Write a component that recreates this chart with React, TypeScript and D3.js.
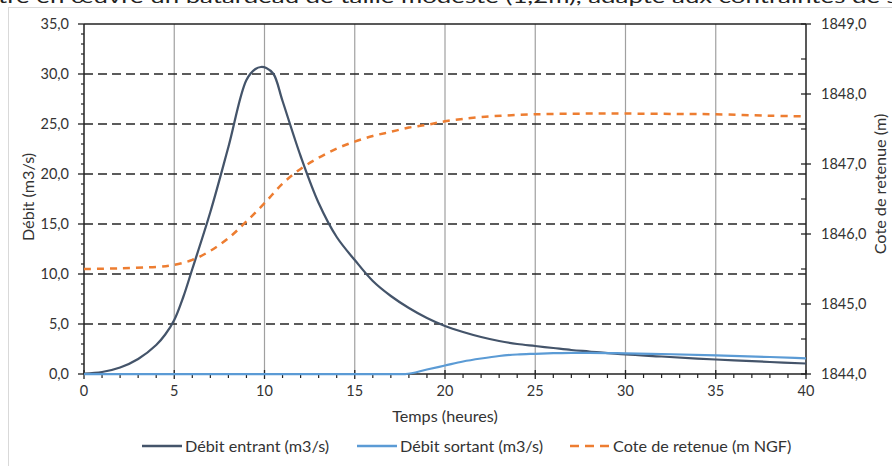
import React from "react";
import * as d3 from "d3";

// ---- Data ----
const inflowT = [0, 1, 2, 3, 4, 4.5, 5, 5.5, 6, 7, 8, 9, 9.5, 9.8, 10.1, 10.5, 11, 12, 13, 14, 15, 16, 17, 18, 19, 20, 21, 22, 23, 24, 25, 26, 27, 28, 30, 32, 35, 38, 40];
const inflowQ = [0.05, 0.2, 0.65, 1.5, 2.9, 3.95, 5.4, 7.7, 10.5, 16.2, 22.7, 29.4, 30.5, 30.7, 30.6, 30.0, 27.3, 21.8, 17.1, 13.7, 11.4, 9.3, 7.8, 6.6, 5.6, 4.8, 4.2, 3.7, 3.3, 3.0, 2.8, 2.6, 2.4, 2.25, 1.95, 1.75, 1.45, 1.2, 1.05];

const outflowT = [0, 5, 10, 15, 17.8, 19, 20, 21, 22, 23, 24, 25, 26, 27, 28, 30, 32, 35, 38, 40];
const outflowQ = [0, 0, 0, 0, 0, 0.45, 0.85, 1.25, 1.55, 1.8, 1.95, 2.02, 2.08, 2.12, 2.12, 2.07, 2.0, 1.87, 1.7, 1.57];

const coteT = [0, 2, 4, 5, 6, 7, 8, 9, 10, 11, 12, 13, 14, 15, 16, 17, 18, 19, 20, 22, 25, 28, 30, 33, 35, 38, 40];
const coteZ = [1845.5, 1845.51, 1845.53, 1845.56, 1845.63, 1845.76, 1845.94, 1846.18, 1846.44, 1846.72, 1846.93, 1847.09, 1847.22, 1847.32, 1847.4, 1847.46, 1847.52, 1847.56, 1847.61, 1847.67, 1847.71, 1847.72, 1847.72, 1847.715, 1847.71, 1847.69, 1847.68];

const xTicks = [0, 5, 10, 15, 20, 25, 30, 35, 40];
const yTicks = [0, 5, 10, 15, 20, 25, 30, 35];
const y2Ticks = [1844, 1845, 1846, 1847, 1848, 1849];

const seriesNames = ["Débit entrant (m3/s)", "Débit sortant (m3/s)", "Cote de retenue (m NGF)"];
const xTitle = "Temps (heures)";
const yTitle = "Débit (m3/s)";
const y2Title = "Cote de retenue (m)";
const topText = "tre en œuvre un batardeau de taille modeste (1,2m), adapté aux contraintes de si";

const FONT = "Lato, 'Open Sans', sans-serif";
const C_IN = "#44546A";
const C_OUT = "#5B9BD5";
const C_COTE = "#ED7D31";
const TXT = "#333333";
const NUM_FS = 14.5;
const LBL_FS = 16.2;

export default function App() {
  const L = 84, R = 806, T = 24, B = 374;
  const x = d3.scaleLinear().domain([0, 40]).range([L, R]);
  const y = d3.scaleLinear().domain([0, 35]).range([B, T]);
  const y2 = d3.scaleLinear().domain([1844, 1849]).range([B, T]);

  const fmt1 = (v: number) => d3.format(".1f")(v).replace(".", ",");

  const lineIn = d3.line<[number, number]>().x(d => x(d[0])).y(d => y(d[1])).curve(d3.curveCatmullRom.alpha(0.5));
  const lineOut = d3.line<[number, number]>().x(d => x(d[0])).y(d => y(d[1])).curve(d3.curveMonotoneX);
  const lineZ = d3.line<[number, number]>().x(d => x(d[0])).y(d => y2(d[1])).curve(d3.curveCatmullRom.alpha(0.5));

  const inPts = inflowT.map((t, i) => [t, inflowQ[i]] as [number, number]);
  const outPts = outflowT.map((t, i) => [t, outflowQ[i]] as [number, number]);
  const cotePts = coteT.map((t, i) => [t, coteZ[i]] as [number, number]);

  const yMinor = d3.range(0, 36, 1).filter(v => v % 5 !== 0);
  const xMinor = d3.range(0, 41, 1).filter(v => v % 5 !== 0);
  const y2Minor = d3.range(1844.5, 1849, 1);

  const legendY = 446;
  const legend = [
    { x0: 142, color: C_IN, dash: undefined as string | undefined, name: seriesNames[0] },
    { x0: 357, color: C_OUT, dash: undefined, name: seriesNames[1] },
    { x0: 570, color: C_COTE, dash: "9,6", name: seriesNames[2] },
  ];

  return (
    <svg width={892} height={466} style={{ position: "absolute", left: 0, top: 0, background: "#fff" }} fontFamily={FONT}>
      <rect x={0} y={0} width={892} height={466} fill="#fff" />
      <text x={-2} y={2.5} fontSize={17} fill="#222" textLength={906} lengthAdjust="spacingAndGlyphs">{topText}</text>
      <rect x={8.5} y={7.5} width={900} height={500} fill="none" stroke="#D9D9D9" />

      {/* vertical gridlines */}
      {xTicks.filter(v => v > 0 && v < 40).map(v => (
        <line key={"vg" + v} x1={x(v)} x2={x(v)} y1={T} y2={B} stroke="#A0A0A0" strokeWidth={1.2} />
      ))}
      {/* horizontal dashed gridlines */}
      {yTicks.filter(v => v > 0 && v < 35).map(v => (
        <line key={"hg" + v} x1={L} x2={R} y1={y(v)} y2={y(v)} stroke="#262626" strokeWidth={1.4} strokeDasharray="9,5" />
      ))}

      {/* axes */}
      <line x1={L} x2={R} y1={T} y2={T} stroke="#222" strokeWidth={1.5} />
      <line x1={L} x2={L} y1={T} y2={B} stroke="#222" strokeWidth={1.5} />
      <line x1={R} x2={R} y1={T} y2={B} stroke="#222" strokeWidth={1.5} />
      <line x1={L} x2={R} y1={B} y2={B} stroke="#222" strokeWidth={1.5} />

      {/* left ticks */}
      {yTicks.map(v => (
        <line key={"yt" + v} x1={L - 6} x2={L} y1={y(v)} y2={y(v)} stroke="#222" strokeWidth={1.3} />
      ))}
      {yMinor.map(v => (
        <line key={"ym" + v} x1={L - 3} x2={L} y1={y(v)} y2={y(v)} stroke="#222" strokeWidth={1.2} />
      ))}
      {yTicks.map(v => (
        <text key={"yl" + v} x={L - 15} y={y(v)} dy="0.35em" textAnchor="end" fontSize={NUM_FS} fill={TXT}>{fmt1(v)}</text>
      ))}

      {/* right ticks */}
      {y2Ticks.map(v => (
        <line key={"y2t" + v} x1={R - 5} x2={R + 5} y1={y2(v)} y2={y2(v)} stroke="#222" strokeWidth={1.3} />
      ))}
      {y2Minor.map(v => (
        <line key={"y2m" + v} x1={R - 5} x2={R} y1={y2(v)} y2={y2(v)} stroke="#222" strokeWidth={1.2} />
      ))}
      {y2Ticks.map(v => (
        <text key={"y2l" + v} x={R + 15} y={y2(v)} dy="0.35em" textAnchor="start" fontSize={NUM_FS} fill={TXT}>{fmt1(v)}</text>
      ))}

      {/* bottom ticks */}
      {xTicks.map(v => (
        <line key={"xt" + v} x1={x(v)} x2={x(v)} y1={B - 4} y2={B + 5} stroke="#222" strokeWidth={1.3} />
      ))}
      {xMinor.map(v => (
        <line key={"xm" + v} x1={x(v)} x2={x(v)} y1={B} y2={B + 4} stroke="#222" strokeWidth={1.2} />
      ))}
      {xTicks.map(v => (
        <text key={"xl" + v} x={x(v)} y={391} dy="0.35em" textAnchor="middle" fontSize={NUM_FS} fill={TXT}>{String(v)}</text>
      ))}

      {/* axis titles */}
      <text x={(L + R) / 2} y={416} dy="0.35em" textAnchor="middle" fontSize={LBL_FS} fill={TXT}>{xTitle}</text>
      <text transform={`translate(28,197) rotate(-90)`} dy="0.35em" textAnchor="middle" fontSize={LBL_FS} fill={TXT}>{yTitle}</text>
      <text transform={`translate(880,184) rotate(-90)`} dy="0.35em" textAnchor="middle" fontSize={LBL_FS} fill={TXT}>{y2Title}</text>

      {/* series */}
      <path d={lineIn(inPts) || ""} fill="none" stroke={C_IN} strokeWidth={2.25} />
      <path d={lineOut(outPts) || ""} fill="none" stroke={C_OUT} strokeWidth={2.25} />
      <path d={lineZ(cotePts) || ""} fill="none" stroke={C_COTE} strokeWidth={2.5} strokeDasharray="7,6" />

      {/* legend */}
      {legend.map((it, i) => (
        <g key={"lg" + i}>
          <line x1={it.x0} x2={it.x0 + 40} y1={legendY} y2={legendY} stroke={it.color} strokeWidth={2.5} strokeDasharray={it.dash} />
          <text x={it.x0 + 43} y={legendY} dy="0.35em" fontSize={LBL_FS} fill={TXT}>{it.name}</text>
        </g>
      ))}
    </svg>
  );
}
